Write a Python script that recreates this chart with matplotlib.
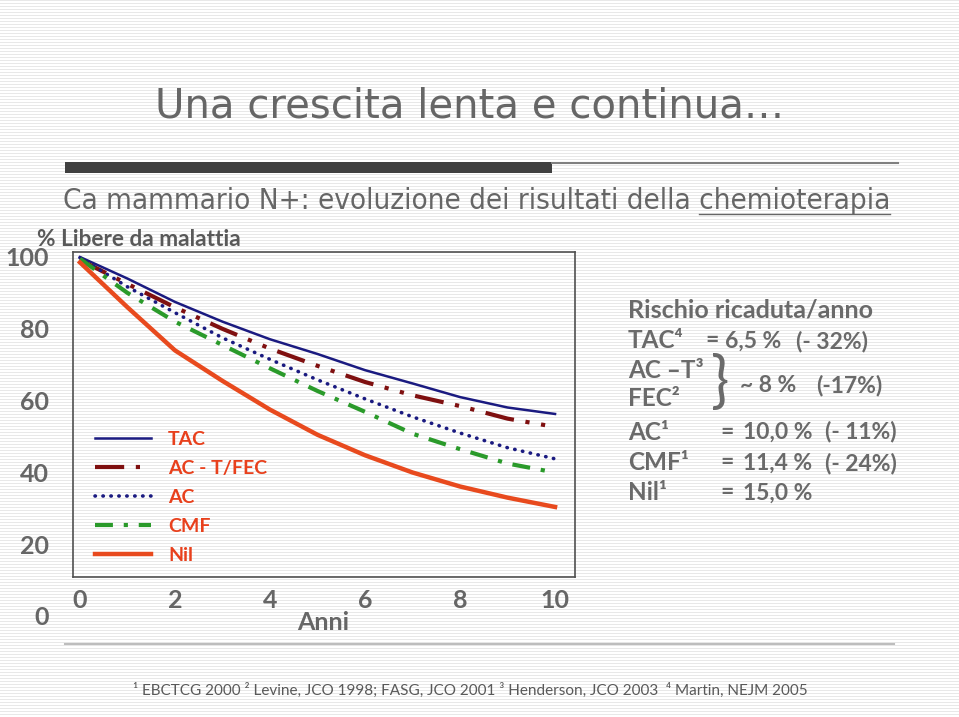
import numpy as np
import matplotlib
matplotlib.use("Agg")
import matplotlib.pyplot as plt
from matplotlib.lines import Line2D
from matplotlib.patches import Rectangle
from matplotlib import transforms

W, H = 959, 717

# dati (% libere da malattia per anno)
anni = [0, 1, 2, 3, 4, 5, 6, 7, 8, 9, 10]
tac = [100.5, 94.5, 88.0, 82.5, 77.6, 73.5, 69.0, 65.3, 61.5, 58.6, 56.8]
ac_t_fec = [99.7, 93.0, 86.5, 80.5, 75.0, 70.2, 65.7, 62.0, 59.0, 55.5, 53.2]
ac = [100.3, 92.2, 85.0, 78.0, 72.0, 66.3, 61.0, 56.0, 51.5, 47.4, 44.3]
cmf = [100.0, 90.5, 82.5, 76.0, 69.5, 63.2, 57.4, 51.3, 47.0, 43.0, 40.5]
nil = [99.0, 86.5, 74.5, 66.0, 58.0, 51.0, 45.3, 40.5, 36.6, 33.5, 30.9]

y_ticks = [100, 80, 60, 40, 20, 0]
x_ticks = [0, 2, 4, 6, 8, 10]

titolo = "Una crescita lenta e continua…"
sottotitolo = "Ca mammario N+: evoluzione dei risultati della "
sottolineato = "chemioterapia"
note = "¹ EBCTCG 2000 ² Levine, JCO 1998; FASG, JCO 2001 ³ Henderson, JCO 2003  ⁴ Martin, NEJM 2005"

# riquadro rischio: etichetta, valore, variazione
rischio_lab = ["TAC⁴", "AC¹", "CMF¹", "Nil¹"]
rischio_val = ["6,5 %", "10,0 %", "11,4 %", "15,0 %"]
rischio_var = ["(- 32%)", "(- 11%)", "(- 24%)", ""]
rischio_y = [341, 432, 463, 493]

GRIGIO = "#666666"
ARANCIO = "#e8401c"
CAL = ["Lato", "DejaVu Sans"]


def fx(px):
    return px / W


def fy(py):
    return 1 - py / H


fig = plt.figure(figsize=(W / 100, H / 100), dpi=100)

# sfondo a righe
bg = fig.add_axes([0, 0, 1, 1], zorder=-10)
righe = np.ones((H, W))
righe[::3, :] = 0.91
bg.imshow(righe, cmap="gray", vmin=0, vmax=1, aspect="auto", interpolation="nearest")
bg.axis("off")

# decorazioni
fig.add_artist(Rectangle((fx(65), fy(173)), fx(552) - fx(65), fy(162) - fy(173),
                         transform=fig.transFigure, color="#404040", lw=0))
fig.add_artist(Line2D([fx(552), fx(898)], [fy(162.5), fy(162.5)], transform=fig.transFigure,
                      color="#808080", lw=1.5))
fig.add_artist(Line2D([fx(65), fx(894)], [fy(644), fy(644)], transform=fig.transFigure,
                      color="#bdbdbd", lw=1.5))

fig.text(fx(155), fy(107), titolo, fontsize=29, color=GRIGIO, va="center",
         family="DejaVu Sans")
SUB = dict(fontsize=21.2, family="DejaVu Sans", stretch="condensed")
t_sub = fig.text(fx(63), fy(201), sottotitolo + sottolineato, color=GRIGIO,
                 va="center", **SUB)
fig.text(fx(37), fy(240), "% Libere da malattia", fontsize=16.3, color="#595959",
         va="center", family=CAL, weight="bold")

# sottolineatura di "chemioterapia"
r = fig.canvas.get_renderer()
bb = t_sub.get_window_extent(r)
tmp = fig.text(0, 0, sottolineato, **SUB)
w_sott = tmp.get_window_extent(r).width
tmp.remove()
fig.add_artist(Line2D([(bb.x1 - w_sott) / W, bb.x1 / W], [fy(214), fy(214)],
                      transform=fig.transFigure, color=GRIGIO, lw=1.0))

# area del grafico
ax = fig.add_axes([fx(73), fy(577), fx(575) - fx(73), fy(252) - fy(577)])
ax.set_facecolor("none")
ax.set_xlim(-0.147, 10.42)
ax.set_ylim(11.4, 101.9)
ax.set_xticks([])
ax.set_yticks([])
for s in ax.spines.values():
    s.set_color("#505050")
    s.set_linewidth(1.2)

ax.plot(anni, tac, color="#1a1a80", lw=1.8, label="TAC")
ax.plot(anni, ac_t_fec, color="#7f1010", lw=3, ls=(0, (7, 2.8, 1, 2.8, 1, 2.8)),
        label="AC - T/FEC")
ax.plot(anni, ac, color="#1a1a80", lw=2.6, ls=(0, (0.1, 2.1)), dash_capstyle="round",
        label="AC")
ax.plot(anni, cmf, color="#2a9a2a", lw=3, ls=(0, (4.3, 2.6, 1, 2.6)), label="CMF")
ax.plot(anni, nil, color="#e84a1e", lw=3.2, label="Nil")

leg = ax.legend(loc="upper left", bbox_to_anchor=(fx(95), fy(431)),
                bbox_transform=fig.transFigure, frameon=False, borderpad=0,
                borderaxespad=0, handlelength=2.9, handletextpad=0.85,
                labelspacing=0.62, prop={"family": CAL, "weight": "bold", "size": 14},
                labelcolor=ARANCIO)

# etichette degli assi
ty = transforms.blended_transform_factory(fig.transFigure, ax.transData)
for v in y_ticks:
    ax.text(fx(49), v, str(v), transform=ty, ha="right", va="center", fontsize=18,
            color=GRIGIO, family=CAL, weight="bold", clip_on=False)
tx = transforms.blended_transform_factory(ax.transData, fig.transFigure)
for v in x_ticks:
    ax.text(v, fy(600), str(v), transform=tx, ha="center", va="center", fontsize=18,
            color=GRIGIO, family=CAL, weight="bold", clip_on=False)
fig.text(fx(323), fy(623), "Anni", ha="center", va="center", fontsize=18, color=GRIGIO,
         family=CAL, weight="bold")

# riquadro rischio
kw = dict(fontsize=17.5, color="#6a6a6a", family=CAL, weight="bold", va="center")
kv = dict(kw, fontsize=16.5)
fig.text(fx(628), fy(310), "Rischio ricaduta/anno", **dict(kw, fontsize=18))
for i, (lab, val, var, yy) in enumerate(zip(rischio_lab, rischio_val, rischio_var, rischio_y)):
    x_eq, x_val, x_var = (705, 725, 868) if i == 0 else (720, 743, 897)
    fig.text(fx(628), fy(yy), lab, **kw)
    fig.text(fx(x_eq), fy(yy), "=", **kv)
    fig.text(fx(x_val), fy(yy), val, **kv)
    if var:
        fig.text(fx(x_var), fy(yy), var, ha="right", **kv)
fig.text(fx(628), fy(370), "AC –T³", **kw)
fig.text(fx(628), fy(398), "FEC²", **kw)
fig.text(fx(711), fy(383), "}", fontsize=44, color="#6a6a6a", family=CAL, va="center")
fig.text(fx(740), fy(385), "~ 8 %", **kv)
fig.text(fx(882), fy(385), "(-17%)", ha="right", **kv)

fig.text(fx(133), fy(690), note, fontsize=11, color="#595959", family=CAL, va="center")

fig.savefig("out.png", dpi=100)
